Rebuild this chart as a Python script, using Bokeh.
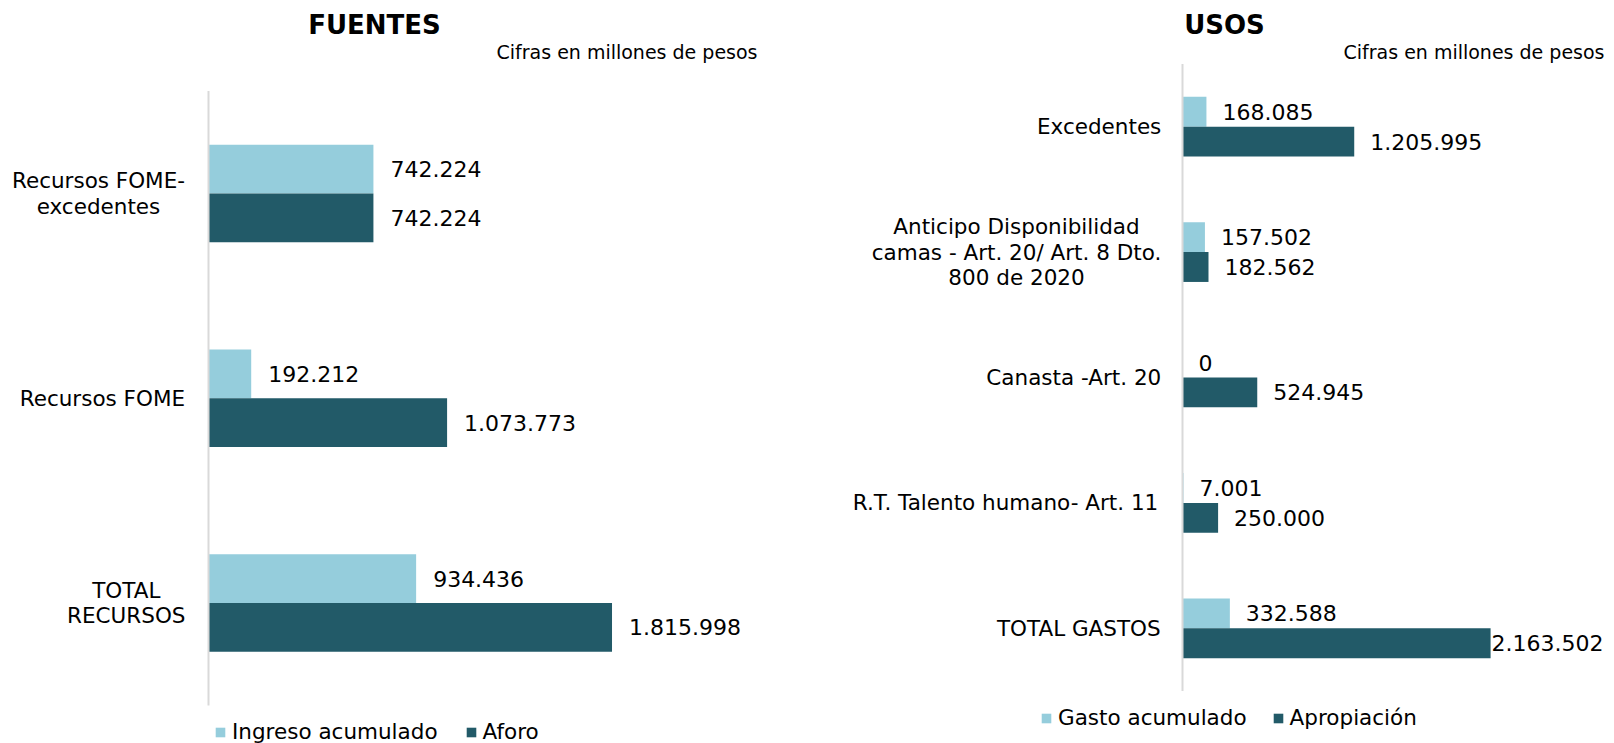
import numpy as np
from bokeh.plotting import figure
from bokeh.models import Range1d, Label, Legend, LegendItem
from bokeh.layouts import row
from bokeh.embed import file_html
from bokeh.resources import INLINE
from bokeh.core.properties import value

# ---------------- data ----------------
fuentes_categories = ["Recursos FOME-\nexcedentes", "Recursos FOME", "TOTAL\nRECURSOS"]
ingreso_acumulado = [742224, 192212, 934436]
aforo = [742224, 1073773, 1815998]

usos_categories = [
    "Excedentes",
    "Anticipo Disponibilidad\ncamas - Art. 20/ Art. 8 Dto.\n800 de 2020",
    "Canasta -Art. 20",
    "R.T. Talento humano- Art. 11",
    "TOTAL GASTOS",
]
gasto_acumulado = [168085, 157502, 0, 7001, 332588]
apropiacion = [1205995, 182562, 524945, 250000, 2163502]

# ---------------- style ----------------
LIGHT = "#95CDDC"
DARK = "#225A68"
AXIS_COLOR = "#D9D9D9"
FONT = "DejaVu Sans"
H = 743
BAR_H = 0.238
VAL_SIZE = 22
CAT_SIZE = 21.5

_W = {' ': .318, '-': .361, '.': .318, '/': .337, 'A': .684, 'C': .698, 'D': .770,
      'E': .632, 'F': .575, 'G': .775, 'L': .557, 'M': .863, 'O': .787, 'R': .695,
      'S': .635, 'T': .611, 'U': .732, 'a': .613, 'b': .635, 'c': .550, 'd': .635,
      'e': .615, 'h': .634, 'i': .278, 'l': .278, 'm': .974, 'n': .634, 'o': .612,
      'p': .635, 'r': .411, 's': .521, 't': .392, 'u': .634, 'x': .592}


def text_width(s, size):
    return max(sum(_W.get(c, .636) for c in line) for line in s.split("\n")) * size


def fmt(v):
    return f"{v:,}".replace(",", ".")


def panel(width, axis_px, px_per_unit, top_px, band_px, categories, light_vals, dark_vals,
          light_name, dark_name, title, title_x, cifras_right, legend_x, legend_cy,
          legend_spacing, cat_gap, val_gap):
    n = len(categories)
    x0 = -axis_px / px_per_unit
    x1 = (width - axis_px) / px_per_unit
    y_top = n + top_px / band_px
    y_bot = y_top - H / band_px
    p = figure(width=width, height=H, x_range=Range1d(x0, x1), y_range=Range1d(y_bot, y_top),
               output_backend="svg", toolbar_location=None, x_axis_location=None,
               y_axis_location=None, min_border=0, outline_line_color=None)
    p.grid.visible = False

    centers = n - 0.5 - np.arange(n)
    light_y = centers + BAR_H / 2
    dark_y = centers - BAR_H / 2

    r_light = p.hbar(y=light_y, left=0, right=light_vals, height=BAR_H,
                     fill_color=LIGHT, line_color=None)
    r_dark = p.hbar(y=dark_y, left=0, right=dark_vals, height=BAR_H,
                    fill_color=DARK, line_color=None)

    # axis line
    p.segment(x0=[0], y0=[0], x1=[0], y1=[n], line_color=AXIS_COLOR, line_width=2)

    # value labels
    xs, ys, ts = [], [], []
    for vals, yy in ((light_vals, light_y), (dark_vals, dark_y)):
        for v, y in zip(vals, yy):
            t = fmt(v)
            px = axis_px + v * px_per_unit + val_gap
            if px + text_width(t, VAL_SIZE) > width - 4:
                px = axis_px + v * px_per_unit + 1
            xs.append((px - axis_px) / px_per_unit)
            ys.append(y)
            ts.append(t)
    p.text(x=xs, y=ys, text=ts, text_font=value(FONT), text_font_size=f"{VAL_SIZE}px",
           text_baseline="middle", text_align="left", text_color="#000000")

    # category labels (centered lines, block right-aligned to the axis)
    cx = [-(cat_gap + text_width(c, CAT_SIZE) / 2) / px_per_unit for c in categories]
    p.text(x=cx, y=centers, text=categories, text_font=value(FONT),
           text_font_size=f"{CAT_SIZE}px", text_baseline="middle", text_align="center",
           text_line_height=1.03, text_color="#000000")

    p.add_layout(Label(x=title_x, y=H - 24.5, x_units="screen", y_units="screen", text=title,
                       text_font=FONT, text_font_size="26px", text_font_style="bold",
                       text_align="center", text_baseline="middle", text_color="#000000"))
    p.add_layout(Label(x=cifras_right, y=H - 51, x_units="screen", y_units="screen",
                       text="Cifras en millones de pesos", text_font=FONT,
                       text_font_size="19px", text_align="right", text_baseline="middle",
                       text_color="#000000"))

    legend = Legend(items=[LegendItem(label=light_name, renderers=[r_light]),
                           LegendItem(label=dark_name, renderers=[r_dark])],
                    orientation="horizontal", location=(legend_x, H - legend_cy - 12),
                    glyph_width=12, glyph_height=12, label_standoff=6, spacing=legend_spacing,
                    padding=0, margin=0, border_line_color=None, background_fill_alpha=0,
                    label_text_font=FONT, label_text_font_size="21.5px",
                    label_text_color="#000000")
    p.add_layout(legend)
    return p


p1 = panel(798, 208, 0.2222 / 1000, 90.6, 204.8, fuentes_categories, ingreso_acumulado, aforo,
           "Ingreso acumulado", "Aforo", "FUENTES", 374, 757, 214, 732, 27, 23, 17)
p2 = panel(816, 384, 0.1424 / 1000, 63.5, 125.4, usos_categories, gasto_acumulado, apropiacion,
           "Gasto acumulado", "Apropiación", "USOS", 426, 806, 242, 718, 25, 21, 16)

layout = row(p1, p2)
open("out.html", "w").write(file_html(layout, INLINE))
